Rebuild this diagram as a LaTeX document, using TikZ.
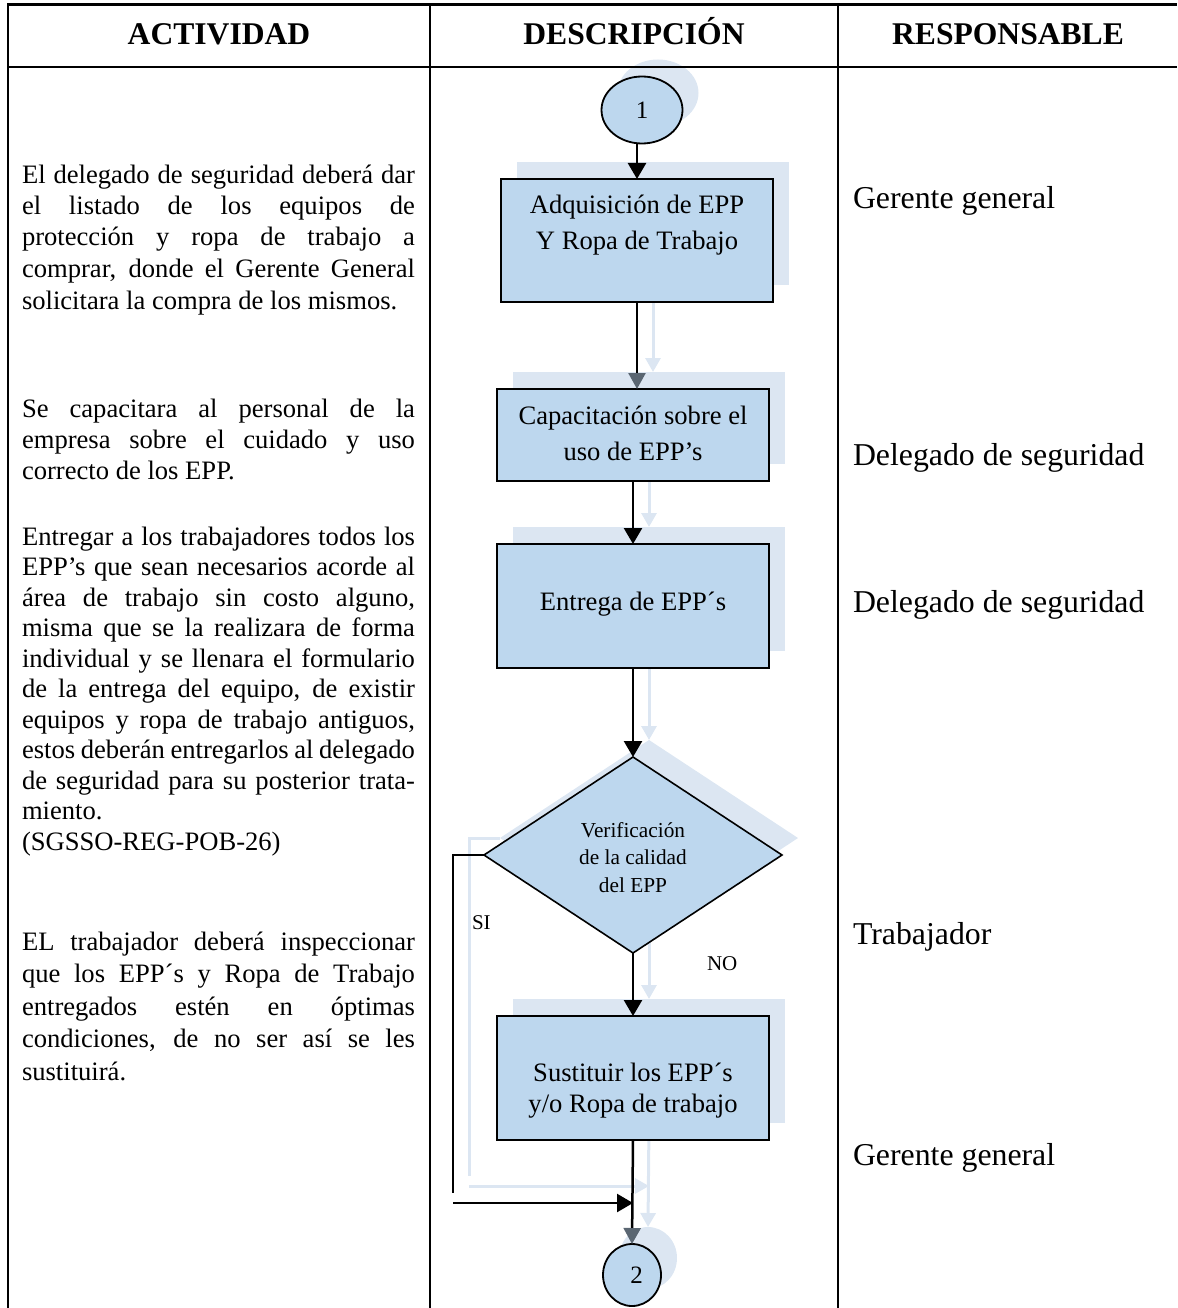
\documentclass[tikz,border=0pt]{standalone}
\usepackage{fontspec}
\setmainfont{Liberation Serif}
\usetikzlibrary{arrows.meta,shapes.geometric}
\definecolor{boxblue}{RGB}{189,215,238}
\definecolor{shblue}{RGB}{220,230,242}
\definecolor{tipgray}{RGB}{90,102,114}
\newcommand\J[1]{\makebox[393pt][s]{\spaceskip=0pt\xspaceskip=0pt #1}}
\newcommand\setflowtexts{%
  \def\tCa{1}\def\tCb{\hspace*{9pt}2}%
  \def\tBa{Adquisición de EPP\\Y Ropa de Trabajo}%
  \def\tBb{Capacitación sobre el\\uso de EPP’s}%
  \def\tBc{Entrega de EPP´s}%
  \def\tD{Verificación\\de la calidad\\del EPP}%
  \def\tBd{Sustituir los EPP´s\\y/o Ropa de trabajo}}
\newcommand\clearflowtexts{%
  \def\tCa{}\def\tCb{}\def\tBa{}\def\tBb{}\def\tBc{}\def\tD{}\def\tBd{}}
\newcommand\drawflow[1]{%
  \node[term, minimum width=81pt, minimum height=67pt] (#1c1) at (642,110) {\tCa};
  \node[proc, minimum height=123pt, text height=27pt, text depth=10pt] (#1b1) at (637,240.5) {\tBa};
  \node[proc, minimum height=92pt, text height=60pt, text depth=10pt] (#1b2) at (633,435) {\tBb};
  \node[proc, minimum height=124pt, text height=18pt, text depth=10pt] (#1b3) at (633,606) {\tBc};
  \node[dec, text height=84pt, text depth=10pt] (#1d) at (633,855) {\tD};
  \node[proc, minimum height=124pt, text height=78pt, text depth=10pt, font=\fontsize{26.6}{31}\selectfont] (#1b4) at (633,1078) {\tBd};
  \node[term, minimum width=58pt, minimum height=62pt] (#1c2) at (632,1275) {\tCb};
  \coordinate (#1siA) at (453,1193);
  \coordinate (#1siB) at (453,1203);
  \draw[firstarr] (#1c1.south -| #1b1.north) -- (#1b1.north);
  \draw[garr] (#1b1.south) -- (#1b1.south |- #1b2.north);
  \draw[arr] (#1b2.south) -- (#1b3.north);
  \draw[arr] (#1b3.south) -- (#1d.north);
  \draw[arr] (#1d.south) -- (#1b4.north);
  \draw[garr] (#1b4.south) -- (#1c2.north);
  \draw[link] (#1d.west) -| (#1siA);
  \draw[arr] (#1siB) -- (#1siB -| #1b4.south);
}
\begin{document}
\begin{tikzpicture}[x=1pt,y=-1pt,
  every node/.style={inner sep=0pt, outer sep=0pt},
  hdr/.style={anchor=base, font=\fontsize{31.6}{36}\selectfont\bfseries},
  resp/.style={anchor=base west, font=\fontsize{31.8}{36}\selectfont},
  para/.style={anchor=base west, text width=393pt, align=justify},
  term/.style={ellipse, draw=black, line width=1.8pt, fill=boxblue, font=\fontsize{25}{28}\selectfont},
  proc/.style={rectangle, draw=black, line width=1.8pt, fill=boxblue, minimum width=272pt, align=center, font=\fontsize{26.6}{36}\selectfont},
  dec/.style={diamond, aspect=1.5, draw=black, line width=1.6pt, fill=boxblue, minimum width=298pt, minimum height=196pt, align=center, font=\fontsize{21.3}{27.5}\selectfont},
  arr/.style={line width=2.5pt, draw=black, -{Triangle[length=16pt,width=18pt]}},
  firstarr/.style={arr},
  garr/.style={line width=2.5pt, draw=black, -{Triangle[length=16pt,width=17pt,color=tipgray]}},
  link/.style={line width=2.2pt, draw=black},
  lbl/.style={anchor=base west, font=\fontsize{21}{24}\selectfont},
  rule/.style={draw=black},
  shadowlayer/.style={
    term/.append style={draw=none, fill=shblue},
    proc/.append style={draw=none, fill=shblue},
    dec/.append style={draw=none, fill=shblue},
    arr/.append style={draw=shblue, line width=3pt, -{Triangle[length=14pt,width=15pt,color=shblue]}},
    firstarr/.style={draw=none},
    garr/.append style={draw=shblue, line width=3pt, -{Triangle[length=14pt,width=15pt,color=shblue]}},
    link/.append style={draw=shblue, line width=3pt}}
]
\useasboundingbox (0,0) rectangle (1177,1308);
% shadow layer
\begin{scope}[shift={(16,-17)}, shadowlayer]
  \clearflowtexts
  \drawflow{s}
\end{scope}
% table rules
\draw[rule, line width=3pt] (7,5) -- (1177,5);
\draw[rule, line width=2.5pt] (7,67) -- (1177,67);
\draw[rule, line width=2.2pt] (8,4) -- (8,1308);
\draw[rule, line width=1.8pt] (430,5) -- (430,1308);
\draw[rule, line width=1.8pt] (838,5) -- (838,1308);
% headers
\node[hdr] (h1) at (219,45) {ACTIVIDAD};
\node[hdr] (h2) at (634,45) {DESCRIPCIÓN};
\node[hdr] (h3) at (1008,45) {RESPONSABLE};
% main flow
\setflowtexts
\drawflow{m}
\node[lbl] (si) at (472,929) {SI};
\node[lbl] (no) at (707,970) {NO};
% activity texts
\node[para, font=\fontsize{26.6}{31}\selectfont] (p1) at (22,184)
 {\J{El delegado de seguridad deberá dar}\\
  \J{el listado de los equipos de}\\
  \J{protección y ropa de trabajo a}\\
  \J{comprar, donde el Gerente General}\\[2pt]
  solicitara la compra de los mismos.};
\node[para, font=\fontsize{26.6}{31}\selectfont] (p2) at (22,417)
 {\J{Se capacitara al personal de la}\\
  \J{empresa sobre el cuidado y uso}\\
  correcto de los EPP.};
\node[para, font=\fontsize{26.6}{30.5}\selectfont] (p3) at (22,545)
 {\J{Entregar a los trabajadores todos los}\\
  \J{EPP’s que sean necesarios acorde al}\\
  \J{área de trabajo sin costo alguno,}\\
  \J{misma que se la realizara de forma}\\
  \J{individual y se llenara el formulario}\\
  \J{de la entrega del equipo, de existir}\\
  \J{equipos y ropa de trabajo antiguos,}\\
  \J{estos deberán entregarlos al delegado}\\
  \J{de seguridad para su posterior trata-}\\
  miento.\\
  (SGSSO-REG-POB-26)};
\node[para, font=\fontsize{26.6}{32.5}\selectfont] (p4) at (22,950)
 {\J{EL trabajador deberá inspeccionar}\\
  \J{que los EPP´s y Ropa de Trabajo}\\
  \J{entregados estén en óptimas}\\
  \J{condiciones, de no ser así se les}\\
  sustituirá.};
% responsible texts
\node[resp] (r1) at (853,208) {Gerente general};
\node[resp] (r2) at (853,465) {Delegado de seguridad};
\node[resp] (r3) at (853,612) {Delegado de seguridad};
\node[resp] (r4) at (853,944) {Trabajador};
\node[resp] (r5) at (853,1165) {Gerente general};
\end{tikzpicture}
\end{document}
